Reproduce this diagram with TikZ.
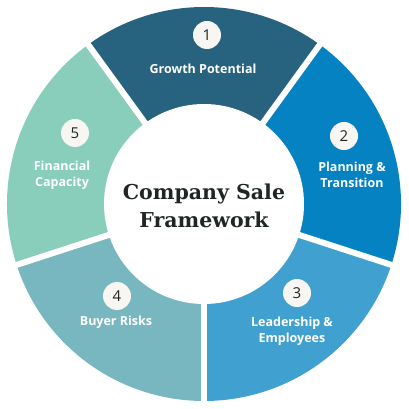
\documentclass[tikz,border=0pt]{standalone}
\usepackage{fontspec}
\setmainfont{Open Sans}
\newfontfamily\titlefont{DejaVu Serif}

\definecolor{growthblue}{HTML}{27627E}
\definecolor{planblue}{HTML}{0482C1}
\definecolor{leadblue}{HTML}{40A0CF}
\definecolor{buyerteal}{HTML}{78B7BF}
\definecolor{financemint}{HTML}{88CEBA}
\definecolor{numbg}{HTML}{F8F6F2}
\definecolor{darktext}{HTML}{1F2623}

\tikzstyle{numdot}=[circle,fill=numbg,minimum size=28pt,inner sep=0pt,text=darktext,font=\fontsize{15}{15}\selectfont]
\tikzstyle{segtext}=[align=center,text=white,font=\bfseries\fontsize{12.5}{16}\selectfont]
\tikzstyle{gapline}=[white,line width=6pt]

\begin{document}
\begin{tikzpicture}[x=1pt,y=1pt]
  \useasboundingbox (-204,-205) rectangle (205,204);
  % ring segments
  \fill[growthblue] (0,0) -- (54:197) arc[start angle=54,end angle=126,radius=197] -- cycle;
  \fill[planblue] (0,0) -- (-18:197) arc[start angle=-18,end angle=54,radius=197] -- cycle;
  \fill[leadblue] (0,0) -- (-90:197) arc[start angle=-90,end angle=-18,radius=197] -- cycle;
  \fill[buyerteal] (0,0) -- (198:197) arc[start angle=198,end angle=270,radius=197] -- cycle;
  \fill[financemint] (0,0) -- (126:197) arc[start angle=126,end angle=198,radius=197] -- cycle;
  % gaps
  \coordinate (c) at (0,0);
  \foreach \a in {54,126,198,270,-18}
    \draw[gapline] (c) -- (\a:205);
  \node (hub) [circle,fill=white,minimum size=200pt,inner sep=0pt] at (c) {};
  \node (title) [align=center,text=darktext,font=\titlefont\bfseries\fontsize{20.5}{28}\selectfont] at (0,-2) {Company Sale\\Framework};

  \node (n1) [numdot] at (3,169) {1};
  \node (t1) [segtext] at (-1,135) {Growth Potential};
  \node (n2) [numdot] at (140,68) {2};
  \node (t2) [segtext] at (148,29) {Planning \&\\Transition};
  \node (n3) [numdot] at (93,-89) {3};
  \node (t3) [segtext] at (88,-127) {Leadership \&\\Employees};
  \node (n4) [numdot] at (-87,-92) {4};
  \node (t4) [segtext] at (-88,-118) {Buyer Risks};
  \node (n5) [numdot] at (-129,71) {5};
  \node (t5) [segtext] at (-142,29) {Financial\\Capacity};
\end{tikzpicture}
\end{document}
